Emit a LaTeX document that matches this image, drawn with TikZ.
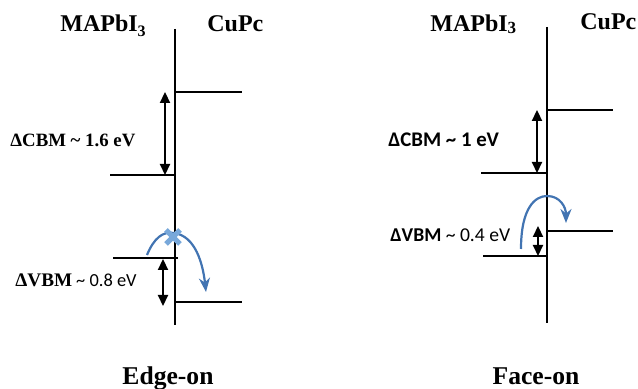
\documentclass[tikz,border=0pt]{standalone}
\usepackage{fontspec}
\setmainfont{Liberation Serif}
\newfontfamily\calfont{Carlito}
\usetikzlibrary{arrows.meta}
\definecolor{curveblue}{RGB}{66,116,178}
\definecolor{crossblue}{RGB}{120,168,218}
\tikzset{
  level/.style={line width=1.1pt},
  iface/.style={line width=1.1pt},
  gap/.style={line width=1.1pt,{Triangle[length=5.5pt,width=5pt]}-{Triangle[length=5.5pt,width=5pt]}},
  hop/.style={line width=1.1pt,draw=curveblue,-{Stealth[length=7pt,width=5.5pt]}},
  lbl/.style={inner sep=0pt,anchor=base west},
  title/.style={inner sep=0pt,anchor=base west,font=\fontsize{12}{14}\selectfont\bfseries},
  captext/.style={inner sep=0pt,anchor=base,font=\fontsize{12.8}{15}\selectfont\bfseries},
}
\begin{document}
\begin{tikzpicture}[x=0.5pt,y=-0.5pt]
\useasboundingbox (0,0) rectangle (638,389);
% ---------- Edge-on ----------
\coordinate (Lt) at (175,29);
\coordinate (Lb) at (175,325);
\draw[iface] (Lt) -- (Lb);
\coordinate (LcuC0) at (175,92);  \coordinate (LcuC1) at (242,92);
\coordinate (LmaC0) at (110,175); \coordinate (LmaC1) at (175,175);
\coordinate (LmaV0) at (113,258); \coordinate (LmaV1) at (178,258);
\coordinate (LcuV0) at (175,302); \coordinate (LcuV1) at (242,302);
\draw[level] (LcuC0) -- (LcuC1);
\draw[level] (LmaC0) -- (LmaC1);
\draw[level] (LmaV0) -- (LmaV1);
\draw[level] (LcuV0) -- (LcuV1);
\coordinate (LgC0) at (165,92);  \coordinate (LgC1) at (165,175);
\coordinate (LgV0) at (163,259); \coordinate (LgV1) at (163,306);
\draw[gap] (LgC0) -- (LgC1);
\draw[gap] (LgV0) -- (LgV1);
\coordinate (Lh0) at (147,255);
\coordinate (Lh1) at (174,233);
\coordinate (Lh2) at (206,292);
\draw[hop] (Lh0) .. controls (154,238) and (163,231) .. (Lh1) .. controls (196,236) and (203,265) .. (Lh2);
\coordinate (Lx) at (173,237);
\draw[crossblue,line width=2.6pt] ([shift={(-7,-7)}]Lx) -- ([shift={(7,7)}]Lx);
\draw[crossblue,line width=2.6pt] ([shift={(-7,7)}]Lx) -- ([shift={(7,-7)}]Lx);
\node[title] (Lma) at (60,32) {MAPbI\raisebox{-2.2pt}{\fontsize{8}{9}\selectfont 3}};
\node[title] (Lcu) at (207,32) {CuPc};
\node[lbl,font=\fontsize{9.4}{11}\selectfont\bfseries] (LdC) at (10,147) {ΔCBM \textasciitilde{} 1.6 eV};
\node[lbl,font=\fontsize{9.6}{11}\selectfont] (LdV) at (15,287) {\textbf{ΔVBM}\hspace{2pt}{\calfont\fontsize{9.2}{11}\selectfont \textasciitilde{} 0.8 eV}};
\node[captext] (Ledge) at (168,385) {Edge-on};
% ---------- Face-on ----------
\coordinate (Rt) at (547,27);
\coordinate (Rb) at (547,323);
\draw[iface] (Rt) -- (Rb);
\coordinate (RcuC0) at (547,110); \coordinate (RcuC1) at (613,110);
\coordinate (RmaC0) at (481,173); \coordinate (RmaC1) at (547,173);
\coordinate (RcuV0) at (547,231); \coordinate (RcuV1) at (613,231);
\coordinate (RmaV0) at (483,256); \coordinate (RmaV1) at (547,256);
\draw[level] (RcuC0) -- (RcuC1);
\draw[level] (RmaC0) -- (RmaC1);
\draw[level] (RcuV0) -- (RcuV1);
\draw[level] (RmaV0) -- (RmaV1);
\coordinate (RgC0) at (537,110); \coordinate (RgC1) at (537,173);
\coordinate (RgV0) at (538,226); \coordinate (RgV1) at (538,256);
\draw[gap] (RgC0) -- (RgC1);
\draw[gap] (RgV0) -- (RgV1);
\coordinate (Rh0) at (521,249);
\coordinate (Rh1) at (547,196);
\coordinate (Rh2) at (566,223);
\draw[hop] (Rh0) .. controls (521,208) and (535,196) .. (Rh1) .. controls (560,196) and (566,207) .. (Rh2);
\node[title] (Rma) at (430,32) {MAPbI\raisebox{-1pt}{\fontsize{8.5}{9}\selectfont 3}};
\node[title] (Rcu) at (580,30) {CuPc};
\node[lbl,font=\calfont\fontsize{10.4}{12}\selectfont\bfseries] (RdC) at (388,147) {ΔCBM \textasciitilde{} 1 eV};
\node[lbl,font=\calfont\fontsize{9.8}{11}\selectfont] (RdV) at (390,242) {\textbf{ΔVBM} \textasciitilde{} 0.4 eV};
\node[captext] (Rface) at (536,385) {Face-on};
\end{tikzpicture}
\end{document}
